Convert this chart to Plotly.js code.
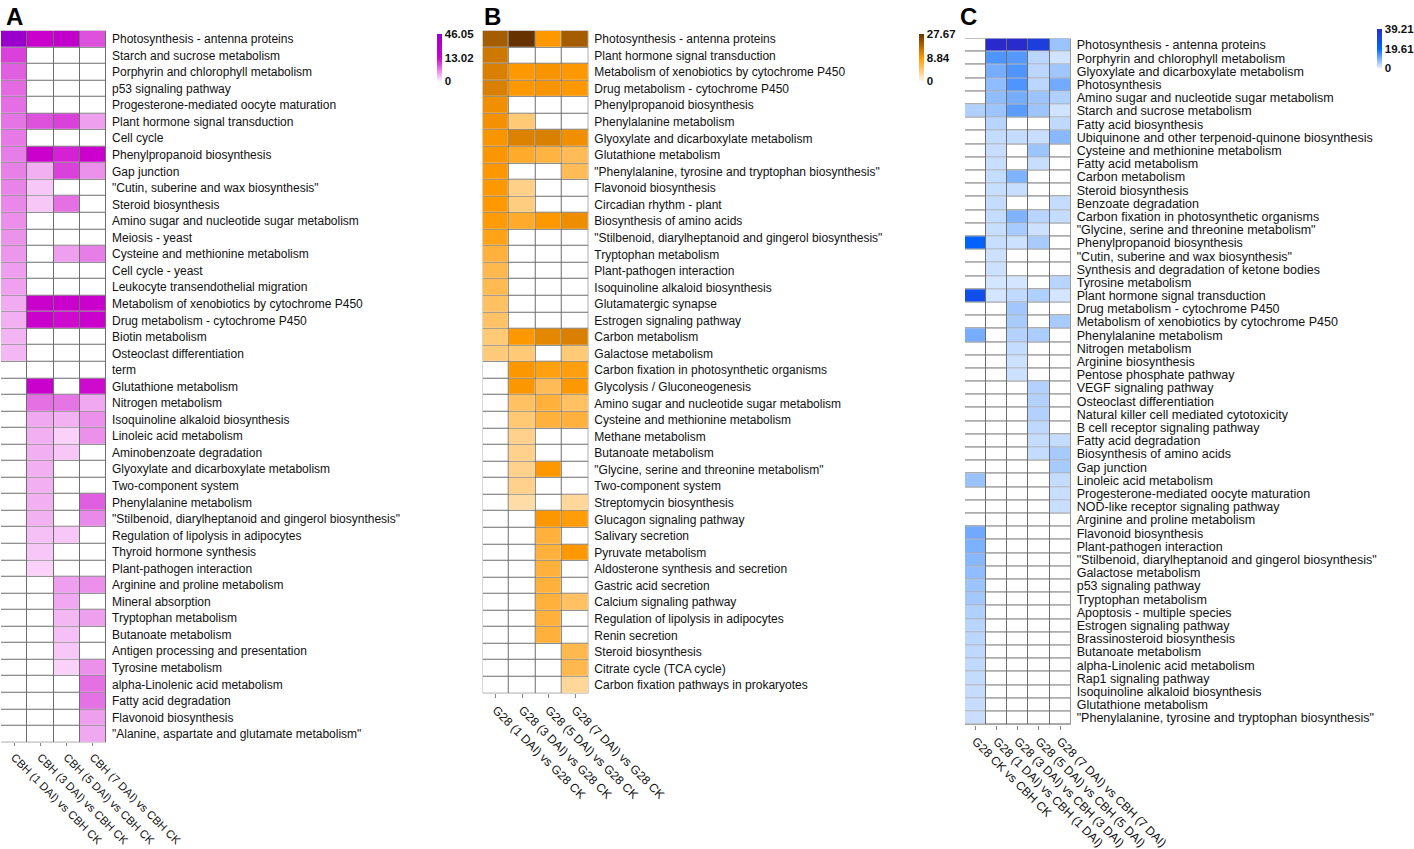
<!DOCTYPE html>
<html><head><meta charset="utf-8">
<script src="https://cdn.plot.ly/plotly-3.0.1.min.js"></script>
<style>html,body{margin:0;padding:0;background:#fff}#chart{width:1414px;height:849px}</style>
</head><body><div id="chart"></div>
<script>
// ---------- Panel A ----------
const rowsA = ["Photosynthesis - antenna proteins","Starch and sucrose metabolism","Porphyrin and chlorophyll metabolism","p53 signaling pathway","Progesterone-mediated oocyte maturation","Plant hormone signal transduction","Cell cycle","Phenylpropanoid biosynthesis","Gap junction","\"Cutin, suberine and wax biosynthesis\"","Steroid biosynthesis","Amino sugar and nucleotide sugar metabolism","Meiosis - yeast","Cysteine and methionine metabolism","Cell cycle - yeast","Leukocyte transendothelial migration","Metabolism of xenobiotics by cytochrome P450","Drug metabolism - cytochrome P450","Biotin metabolism","Osteoclast differentiation","term","Glutathione metabolism","Nitrogen metabolism","Isoquinoline alkaloid biosynthesis","Linoleic acid metabolism","Aminobenzoate degradation","Glyoxylate and dicarboxylate metabolism","Two-component system","Phenylalanine metabolism","\"Stilbenoid, diarylheptanoid and gingerol biosynthesis\"","Regulation of lipolysis in adipocytes","Thyroid hormone synthesis","Plant-pathogen interaction","Arginine and proline metabolism","Mineral absorption","Tryptophan metabolism","Butanoate metabolism","Antigen processing and presentation","Tyrosine metabolism","alpha-Linolenic acid metabolism","Fatty acid degradation","Flavonoid biosynthesis","\"Alanine, aspartate and glutamate metabolism\""];
const colsA = ["CBH (1 DAI) vs CBH CK","CBH (3 DAI) vs CBH CK","CBH (5 DAI) vs CBH CK","CBH (7 DAI) vs CBH CK"];
const A_1dai = [46.05,9.5,7.8,7.2,7.0,6.6,6.4,6.2,6.0,5.8,5.6,5.2,5.0,4.8,4.4,4.2,3.6,3.4,3.2,3.0,null,null,null,null,null,null,null,null,null,null,null,null,null,null,null,null,null,null,null,null,null,null,null];
const A_3dai = [14,null,null,null,null,8.6,null,13.5,3.4,2.1,2.1,null,null,null,null,null,14,14,null,null,null,14,6.9,3.8,3.4,3.4,3.4,3.4,3.4,3.3,2.5,2.1,1.6,null,null,null,null,null,null,null,null,null,null];
const A_5dai = [20,null,null,null,null,9.5,null,11.2,9.5,null,6.9,null,null,4.3,null,null,14,12.5,null,null,null,null,6.6,3.3,1.6,2.1,null,null,null,null,2.1,null,null,4.3,3.8,3.0,2.5,2.1,1.6,null,null,null,null];
const A_7dai = [8.6,null,null,null,null,4.3,null,13.5,5.1,null,null,null,null,6.2,null,null,14,14,null,null,null,12.5,3.8,5.1,5.1,null,null,null,7.8,5.5,null,null,null,5.1,null,4.3,null,null,5.1,6.9,6.8,4.3,3.8];
const ticksA = ["0","13.02","46.05"];

// ---------- Panel B ----------
const rowsB = ["Photosynthesis - antenna proteins","Plant hormone signal transduction","Metabolism of xenobiotics by cytochrome P450","Drug metabolism - cytochrome P450","Phenylpropanoid biosynthesis","Phenylalanine metabolism","Glyoxylate and dicarboxylate metabolism","Glutathione metabolism","\"Phenylalanine, tyrosine and tryptophan biosynthesis\"","Flavonoid biosynthesis","Circadian rhythm - plant","Biosynthesis of amino acids","\"Stilbenoid, diarylheptanoid and gingerol biosynthesis\"","Tryptophan metabolism","Plant-pathogen interaction","Isoquinoline alkaloid biosynthesis","Glutamatergic synapse","Estrogen signaling pathway","Carbon metabolism","Galactose metabolism","Carbon fixation in photosynthetic organisms","Glycolysis / Gluconeogenesis","Amino sugar and nucleotide sugar metabolism","Cysteine and methionine metabolism","Methane metabolism","Butanoate metabolism","\"Glycine, serine and threonine metabolism\"","Two-component system","Streptomycin biosynthesis","Glucagon signaling pathway","Salivary secretion","Pyruvate metabolism","Aldosterone synthesis and secretion","Gastric acid secretion","Calcium signaling pathway","Regulation of lipolysis in adipocytes","Renin secretion","Steroid biosynthesis","Citrate cycle (TCA cycle)","Carbon fixation pathways in prokaryotes"];
const colsB = ["G28 (1 DAI) vs G28 CK","G28 (3 DAI) vs G28 CK","G28 (5 DAI) vs G28 CK","G28 (7 DAI) vs G28 CK"];
const B_1dai = [20,15,13.5,13.5,10.7,10.3,9.6,9.4,9.2,9.0,8.8,8.6,7.9,6.5,5.8,5.6,5.0,4.8,4.2,4.0,null,null,null,null,null,null,null,null,null,null,null,null,null,null,null,null,null,null,null,null];
const B_3dai = [27.67,null,9,9,null,4.2,13,7.2,null,3.5,3.8,7.2,null,null,null,null,null,null,9,4.2,9.2,9.3,5.0,4.3,3.4,3.4,3.4,3.4,2.3,null,null,null,null,null,null,null,null,null,null,null];
const B_5dai = [9,null,9.8,9.8,null,null,13.5,6.3,null,null,null,9,null,null,null,null,null,null,12,null,8.2,5.5,6.5,6.5,null,null,9,null,null,9.2,6.5,6.5,6.5,6.5,6.5,6.5,6.5,null,null,null];
const B_7dai = [20,null,9,9,null,null,10.7,5.5,5.5,null,null,11,null,null,null,null,null,null,13.5,4.2,8.3,9,5,6.5,null,null,null,null,2.8,8.5,null,9,null,null,5,null,null,5.8,5.8,2.8];
const ticksB = ["0","8.84","27.67"];

// ---------- Panel C ----------
const rowsC = ["Photosynthesis - antenna proteins","Porphyrin and chlorophyll metabolism","Glyoxylate and dicarboxylate metabolism","Photosynthesis","Amino sugar and nucleotide sugar metabolism","Starch and sucrose metabolism","Fatty acid biosynthesis","Ubiquinone and other terpenoid-quinone biosynthesis","Cysteine and methionine metabolism","Fatty acid metabolism","Carbon metabolism","Steroid biosynthesis","Benzoate degradation","Carbon fixation in photosynthetic organisms","\"Glycine, serine and threonine metabolism\"","Phenylpropanoid biosynthesis","\"Cutin, suberine and wax biosynthesis\"","Synthesis and degradation of ketone bodies","Tyrosine metabolism","Plant hormone signal transduction","Drug metabolism - cytochrome P450","Metabolism of xenobiotics by cytochrome P450","Phenylalanine metabolism","Nitrogen metabolism","Arginine biosynthesis","Pentose phosphate pathway","VEGF signaling pathway","Osteoclast differentiation","Natural killer cell mediated cytotoxicity","B cell receptor signaling pathway","Fatty acid degradation","Biosynthesis of amino acids","Gap junction","Linoleic acid metabolism","Progesterone-mediated oocyte maturation","NOD-like receptor signaling pathway","Arginine and proline metabolism","Flavonoid biosynthesis","Plant-pathogen interaction","\"Stilbenoid, diarylheptanoid and gingerol biosynthesis\"","Galactose metabolism","p53 signaling pathway","Tryptophan metabolism","Apoptosis - multiple species","Estrogen signaling pathway","Brassinosteroid biosynthesis","Butanoate metabolism","alpha-Linolenic acid metabolism","Rap1 signaling pathway","Isoquinoline alkaloid biosynthesis","Glutathione metabolism","\"Phenylalanine, tyrosine and tryptophan biosynthesis\""];
const colsC = ["G28 CK vs CBH CK","G28 (1 DAI) vs CBH (1 DAI)","G28 (3 DAI) vs CBH (3 DAI)","G28 (5 DAI) vs CBH (5 DAI)","G28 (7 DAI) vs CBH (7 DAI)"];
const C_ck   = [null,null,null,null,null,4.6,null,null,null,null,null,null,null,null,null,21,null,null,null,27,null,null,9.5,null,null,null,null,null,null,null,null,null,null,6.6,null,null,null,10.1,9,8,7.3,6.3,5.7,4.6,3.9,3.6,3.4,3.2,3.0,2.8,2.7,2.5];
const C_1dai = [39.21,13,9.5,7.3,7.3,6.3,3.9,2.9,2.6,2.6,2.9,2.6,2.9,2.9,2.6,2.6,2.2,2.2,1.5,1.5,null,null,null,null,null,null,null,null,null,null,null,null,null,null,null,null,null,null,null,null,null,null,null,null,null,null,null,null,null,null,null,null];
const C_3dai = [39,12.4,13,13,9.5,11.9,null,2.9,null,null,8.7,2.6,null,8.7,5.3,2.2,null,null,1.5,3.2,5.8,5.3,4.2,2.9,2.2,2.2,null,null,null,null,null,null,null,null,null,null,null,null,null,null,null,null,null,null,null,null,null,null,null,null,null,null];
const C_5dai = [32.7,3.6,3.6,3.6,6.3,6.3,null,2.6,6.3,2.6,null,null,null,3.9,2.2,5.3,null,null,null,4.6,null,null,5.0,null,null,null,4.4,4.4,4.4,3.4,2.9,2.9,null,null,null,null,null,null,null,null,null,null,null,null,null,null,null,null,null,null,null,null];
const C_7dai = [6.4,1.9,6.0,10,4.6,1.9,3.2,8.0,null,null,null,null,2.9,2.9,null,null,null,null,3.9,1.5,null,5.3,null,null,null,null,null,null,null,null,2.9,5.3,5.3,2.9,2.6,2.6,null,null,null,null,null,null,null,null,null,null,null,null,null,null,null,null];
const ticksC = ["0","19.61","39.21"];

// ---------- drawing ----------
const W = 1414, H = 849;
const FONT = "Liberation Sans, Arial, sans-serif";
const fx = p => p / W;
const fy = p => 1 - p / H;
function piece(v, mid, max) {
  if (v === null || v === undefined) return null;
  return v <= mid ? 0.5 * v / mid : 0.5 + 0.5 * (v - mid) / (max - mid);
}
const panels = [
  {s:'', rows: rowsA, labels: colsA, cols: [A_1dai, A_3dai, A_5dai, A_7dai], tt: ticksA,
   scale: [[0,'#ffeeff'],[0.5,'#cc00cc'],[1,'#9900cc']],
   x: [1, 106], y: [30.7, 742.3], cb: {x: 437, top: 34, len: 47}, font: 12, xfont: 11.3, tl: 3, letter: 'A', lx: 14},
  {s:'2', rows: rowsB, labels: colsB, cols: [B_1dai, B_3dai, B_5dai, B_7dai], tt: ticksB,
   scale: [[0,'#fff4e0'],[0.5,'#ff9900'],[1,'#663300']],
   x: [482.7, 588.3], y: [30.7, 693.3], cb: {x: 919, top: 34, len: 47}, font: 12, xfont: 12, tl: 4, letter: 'B', lx: 492},
  {s:'3', rows: rowsC, labels: colsC, cols: [C_ck, C_1dai, C_3dai, C_5dai, C_7dai], tt: ticksC,
   scale: [[0,'#e6f0ff'],[0.5,'#0066ff'],[1,'#2a2acc']],
   x: [965, 1070.7], y: [38.4, 724.6], cb: {x: 1377, top: 29, len: 39}, font: 12.5, xfont: 12, tl: 4, letter: 'C', lx: 969}
];

const traces = [];
const layout = {
  width: W, height: H, margin: {l:0, r:0, t:0, b:0},
  paper_bgcolor: '#ffffff', plot_bgcolor: '#6e6e6e', showlegend: false,
  font: {family: FONT, color: '#111'},
  annotations: []
};

panels.forEach(p => {
  const nR = p.rows.length, nC = p.cols.length;
  const xi = p.labels.map((_, j) => j);
  const yi = p.rows.map((_, i) => i);
  const max = parseFloat(p.tt[2]), mid = parseFloat(p.tt[1]);
  const raw = p.rows.map((_, i) => p.cols.map(c => c[i]));
  const z = raw.map(r => r.map(v => piece(v, mid, max)));
  const zeros = p.rows.map(() => p.cols.map(() => 0));
  traces.push({type: 'heatmap', z: zeros, x: xi, y: yi, xaxis: 'x' + p.s, yaxis: 'y' + p.s,
    colorscale: [[0,'#ffffff'],[1,'#ffffff']], showscale: false, xgap: 1, ygap: 1, hoverinfo: 'skip'});
  traces.push({type: 'heatmap', z: z, customdata: raw, x: xi, y: yi, xaxis: 'x' + p.s, yaxis: 'y' + p.s,
    zmin: 0, zmax: 1, colorscale: p.scale, xgap: 1, ygap: 1,
    text: p.rows.map(r => p.labels.map(() => r)),
    hovertemplate: '%{text}<br>%{customdata}<extra></extra>',
    colorbar: {x: fx(p.cb.x), xanchor: 'left', y: fy(p.cb.top), yanchor: 'top',
      lenmode: 'pixels', len: p.cb.len, thicknessmode: 'pixels', thickness: 5,
      outlinewidth: 0, xpad: 0, ypad: 0, ticks: '', ticklabelpad: 3,
      tickvals: [0, 0.5, 1], ticktext: p.tt,
      tickfont: {family: FONT, size: 11.5, color: '#111', weight: 'bold'}}});
  layout['xaxis' + p.s] = {domain: [fx(p.x[0]), fx(p.x[1])], anchor: 'y' + p.s,
    range: [-0.5, nC - 0.5], tickvals: xi, ticktext: p.labels, tickangle: 45,
    ticks: 'outside', ticklen: p.tl, tickcolor: '#888', showgrid: false, zeroline: false,
    showline: false, tickfont: {family: FONT, size: p.xfont, color: '#111'}, fixedrange: true};
  layout['yaxis' + p.s] = {domain: [fy(p.y[1]), fy(p.y[0])], anchor: 'x' + p.s, side: 'right',
    range: [nR - 0.5, -0.5], tickvals: yi, ticktext: p.rows, ticks: '',
    showgrid: false, zeroline: false, showline: false, ticklabelstandoff: 5,
    tickfont: {family: FONT, size: p.font, color: '#111'}, fixedrange: true};
  layout.annotations.push({text: '<b>' + p.letter + '</b>', x: fx(p.lx), y: fy(16), xref: 'paper', yref: 'paper',
    xanchor: 'center', yanchor: 'middle', showarrow: false, font: {family: FONT, size: 24, color: '#000'}});
});

Plotly.newPlot('chart', traces, layout, {displayModeBar: false});
</script></body></html>
